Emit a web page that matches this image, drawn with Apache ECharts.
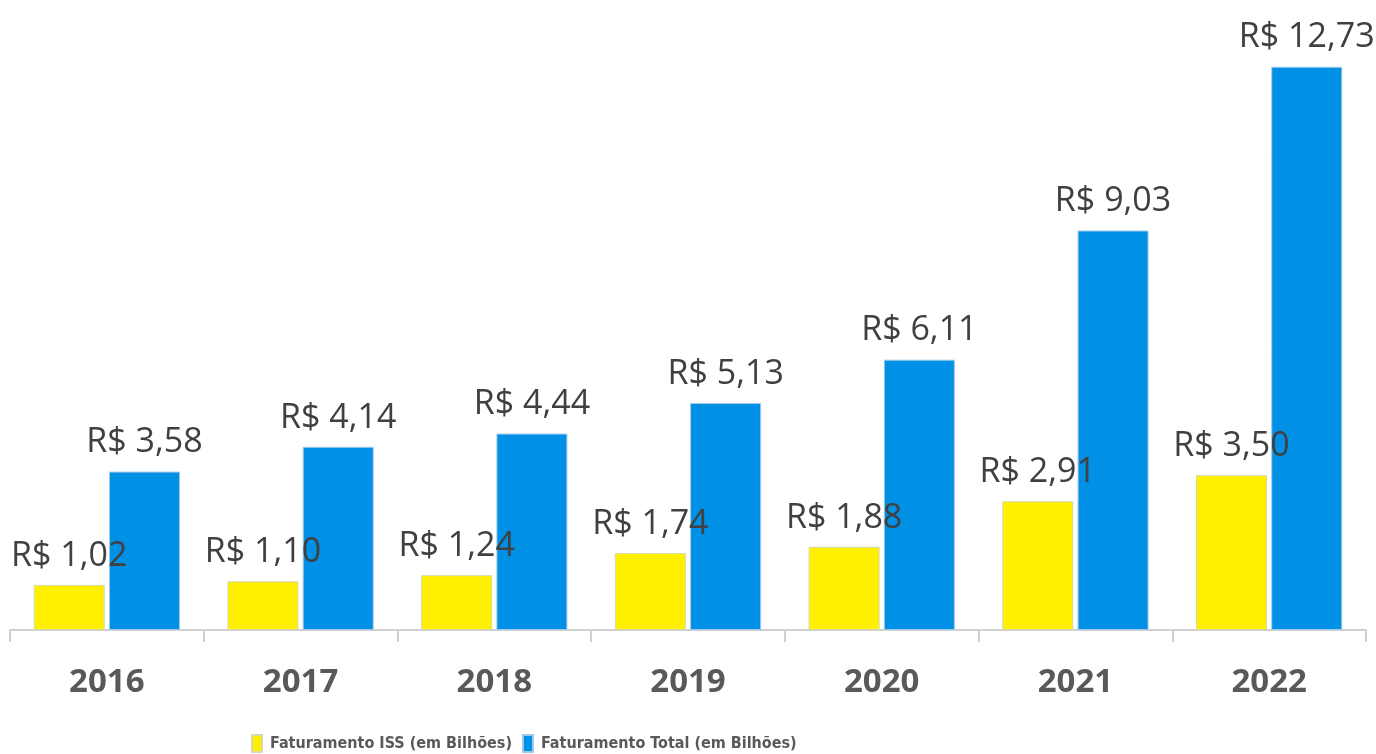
<!DOCTYPE html>
<html>
<head>
<meta charset="utf-8">
<script src="https://cdn.jsdelivr.net/npm/echarts@6/dist/echarts.min.js"></script>
<style>
  html, body { margin: 0; padding: 0; background: #fff; }
  #chart { width: 1376px; height: 754px; }
</style>
</head>
<body>
<div id="chart"></div>
<script>
const years = ['2016', '2017', '2018', '2019', '2020', '2021', '2022']
const issValues = [1.02, 1.10, 1.24, 1.74, 1.88, 2.91, 3.50]
const totalValues = [3.58, 4.14, 4.44, 5.13, 6.11, 9.03, 12.73]
const seriesNames = ['Faturamento ISS (em Bilhões)', 'Faturamento Total (em Bilhões)']

const chart = echarts.init(document.getElementById('chart'))

function labelFormatter (p) {
  return 'R$ ' + p.value.toFixed(2).replace('.', ',')
}

const barLabel = {
  show: true,
  position: 'top',
  distance: 12,
  fontFamily: 'Open Sans',
  fontSize: 34,
  color: '#404040',
  formatter: labelFormatter
}

chart.setOption({
  animation: false,
  legend: {
    left: 246,
    top: 729,
    itemWidth: 10,
    itemHeight: 17,
    itemGap: 10,
    icon: 'rect',
    textStyle: {
      fontFamily: 'DejaVu Sans Condensed, Open Sans',
      fontWeight: 'bold',
      fontSize: 16,
      color: '#595959',
      padding: [0, 0, 0, 3]
    },
    data: seriesNames
  },
  grid: {
    left: 10,
    right: 10,
    top: 0,
    bottom: 124
  },
  xAxis: {
    type: 'category',
    data: years,
    axisLine: {
      lineStyle: { color: '#D0D0D0', width: 2 }
    },
    axisTick: {
      show: true,
      length: 12,
      lineStyle: { color: '#D0D0D0', width: 2 }
    },
    axisLabel: {
      margin: 36,
      fontFamily: 'Open Sans',
      fontWeight: 'bold',
      fontSize: 33,
      color: '#595959'
    }
  },
  yAxis: {
    type: 'value',
    min: 0,
    max: 14.24,
    show: false,
    splitLine: { show: false }
  },
  series: [
    {
      name: seriesNames[0],
      type: 'bar',
      barWidth: 71,
      barGap: '6%',
      itemStyle: { color: '#FFF000', borderColor: '#D8D8B0', borderWidth: 1 },
      label: barLabel,
      data: issValues
    },
    {
      name: seriesNames[1],
      type: 'bar',
      barWidth: 71,
      itemStyle: { color: '#0090E6', borderColor: '#A0C8E8', borderWidth: 1 },
      label: barLabel,
      data: totalValues
    }
  ]
})
</script>
</body>
</html>
